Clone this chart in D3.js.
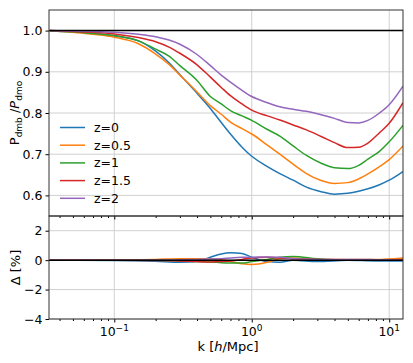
<!DOCTYPE html>
<html>
<head>
<meta charset="utf-8">
<script src="https://cdn.jsdelivr.net/npm/d3@7"></script>
<style>
  body { margin: 0; background: #fff; }
  svg text { font-family: "DejaVu Sans", sans-serif; }
</style>
</head>
<body>
<div id="chart"></div>
<script>
// wavenumbers (h/Mpc) for the ratio curves
const kValues = [0.034, 0.05, 0.07, 0.1, 0.15, 0.2, 0.25, 0.3, 0.4, 0.5, 0.6, 0.7, 0.85, 1.0,
                 1.3, 1.6, 2.0, 2.5, 3.2, 4, 5, 6, 7, 8.5, 10, 12.6];

const ratioZ0   = [0.999, 0.997, 0.993, 0.987, 0.975, 0.950, 0.922, 0.893, 0.848, 0.811, 0.777, 0.749, 0.717, 0.695,
                   0.670, 0.653, 0.637, 0.620, 0.609, 0.603, 0.605, 0.610, 0.616, 0.626, 0.637, 0.658];
const ratioZ05  = [0.999, 0.996, 0.991, 0.984, 0.968, 0.943, 0.918, 0.892, 0.851, 0.818, 0.797, 0.778, 0.762, 0.749,
                   0.722, 0.700, 0.676, 0.653, 0.636, 0.629, 0.631, 0.640, 0.652, 0.670, 0.687, 0.720];
const ratioZ1   = [0.999, 0.997, 0.993, 0.988, 0.975, 0.955, 0.938, 0.915, 0.879, 0.840, 0.822, 0.806, 0.793, 0.782,
                   0.760, 0.744, 0.720, 0.697, 0.678, 0.667, 0.665, 0.673, 0.688, 0.707, 0.730, 0.770];
const ratioZ15  = [1.000, 0.998, 0.996, 0.992, 0.983, 0.973, 0.960, 0.945, 0.917, 0.887, 0.862, 0.842, 0.822, 0.807,
                   0.793, 0.783, 0.771, 0.759, 0.743, 0.728, 0.716, 0.717, 0.727, 0.752, 0.775, 0.825];
const ratioZ2   = [1.000, 0.999, 0.998, 0.996, 0.991, 0.985, 0.977, 0.967, 0.942, 0.915, 0.892, 0.875, 0.855, 0.840,
                   0.825, 0.815, 0.809, 0.804, 0.796, 0.787, 0.777, 0.776, 0.782, 0.800, 0.820, 0.865];

// residuals in percent
const kDelta = [0.034, 0.1, 0.2, 0.3, 0.4, 0.5, 0.6, 0.7, 0.85, 1.0, 1.3, 1.6, 2.0, 3, 5, 8, 12.6];
const deltaZ0  = [0, -0.02, -0.08, -0.15, -0.1, 0.2, 0.42, 0.5, 0.45, 0.2, -0.1, -0.15, 0.0, -0.1, 0.0, -0.05, -0.05];
const deltaZ05 = [0, 0.02, 0.05, 0.1, 0.1, 0.1, 0.05, -0.1, -0.25, -0.3, -0.15, 0.1, 0.15, 0.05, 0.05, 0.05, 0.15];
const deltaZ1  = [0, 0, 0, -0.05, -0.1, -0.12, -0.18, -0.2, -0.2, -0.1, 0.05, 0.2, 0.25, 0.1, 0.0, 0.0, 0.0];
const deltaZ15 = [0, 0, -0.02, -0.05, -0.1, -0.12, -0.1, -0.05, 0.05, 0.15, 0.2, 0.15, 0.1, 0.05, 0.02, 0.0, 0.05];
const deltaZ2  = [0, 0, 0, 0.02, 0.05, 0.08, 0.1, 0.15, 0.2, 0.2, 0.22, 0.2, 0.1, 0.05, 0.05, 0.03, 0.0];

const labels = ["z=0", "z=0.5", "z=1", "z=1.5", "z=2"];
const colors = ["#1f77b4", "#ff7f0e", "#2ca02c", "#d62728", "#9467bd"];
const ratios = [ratioZ0, ratioZ05, ratioZ1, ratioZ15, ratioZ2];
const deltas = [deltaZ0, deltaZ05, deltaZ1, deltaZ15, deltaZ2];

const topTicks = [0.6, 0.7, 0.8, 0.9, 1.0];
const botTicks = [-4, -2, 0, 2];
const majorK = [0.1, 1, 10];
const majorExp = ["\u22121", "0", "1"];

const W = 413, H = 363;
const pLeft = 49, pRight = 403, pTop = 10, pMid = 216, pBottom = 319;

const svg = d3.select("#chart").append("svg")
    .attr("width", W).attr("height", H);

const x = d3.scaleLog().domain([0.0335, 12.6]).range([pLeft, pRight]);
const yTop = d3.scaleLinear().domain([0.55, 1.05]).range([pMid, pTop]);
const yBot = d3.scaleLinear().domain([-4, 3]).range([pBottom, pMid]);

const minorK = x.ticks().filter(d => !majorK.some(m => Math.abs(m - d) < 1e-9));

function grid(y, ticks, y0, y1) {
    const g = svg.append("g").attr("stroke", "#d0d0d0").attr("stroke-width", 1);
    ticks.forEach(t => {
        g.append("line").attr("x1", pLeft).attr("x2", pRight)
            .attr("y1", y(t)).attr("y2", y(t));
    });
    majorK.forEach(k => {
        g.append("line").attr("x1", x(k)).attr("x2", x(k))
            .attr("y1", y0).attr("y2", y1);
    });
}
grid(yTop, topTicks, pTop, pMid);
grid(yBot, botTicks, pMid, pBottom);

// curves
const lineTop = d3.line().x((d, i) => x(kValues[i])).y(d => yTop(d)).curve(d3.curveMonotoneX);
const lineBot = d3.line().x((d, i) => x(kDelta[i])).y(d => yBot(d)).curve(d3.curveMonotoneX);

svg.append("clipPath").attr("id", "ct").append("rect")
    .attr("x", pLeft).attr("y", pTop).attr("width", pRight - pLeft).attr("height", pMid - pTop);
svg.append("clipPath").attr("id", "cb").append("rect")
    .attr("x", pLeft).attr("y", pMid).attr("width", pRight - pLeft).attr("height", pBottom - pMid);

const gTop = svg.append("g").attr("clip-path", "url(#ct)");
ratios.forEach((r, i) => {
    gTop.append("path").datum(r).attr("d", lineTop)
        .attr("fill", "none").attr("stroke", colors[i]).attr("stroke-width", 1.5);
});
gTop.append("line").attr("x1", pLeft).attr("x2", pRight)
    .attr("y1", yTop(1)).attr("y2", yTop(1)).attr("stroke", "#000").attr("stroke-width", 1.5);

const gBot = svg.append("g").attr("clip-path", "url(#cb)");
deltas.forEach((r, i) => {
    gBot.append("path").datum(r).attr("d", lineBot)
        .attr("fill", "none").attr("stroke", colors[i]).attr("stroke-width", 1.5);
});
gBot.append("line").attr("x1", pLeft).attr("x2", pRight)
    .attr("y1", yBot(0)).attr("y2", yBot(0)).attr("stroke", "#000").attr("stroke-width", 1.5);

// axes
function yAxis(y, ticks, fmt) {
    const g = svg.append("g").attr("transform", `translate(${pLeft},0)`)
        .call(d3.axisLeft(y).tickValues(ticks).tickSize(3.5).tickPadding(3).tickFormat(fmt));
    g.select(".domain").remove();
    g.selectAll("text").attr("font-size", 12.5).attr("fill", "#000")
        .style("font-family", "DejaVu Sans, sans-serif");
    g.selectAll("line").attr("stroke", "#000");
}
yAxis(yTop, topTicks, d3.format(".1f"));
yAxis(yBot, botTicks, d => d < 0 ? "\u2212" + Math.abs(d) : String(d));

function xTicks(yPos, withLabels) {
    const gm = svg.append("g").attr("transform", `translate(0,${yPos})`)
        .call(d3.axisBottom(x).tickValues(minorK).tickSize(2).tickFormat(""));
    gm.select(".domain").remove();
    gm.selectAll("line").attr("stroke", "#000");
    const gM = svg.append("g").attr("transform", `translate(0,${yPos})`)
        .call(d3.axisBottom(x).tickValues(majorK).tickSize(3.5).tickFormat(""));
    gM.select(".domain").remove();
    gM.selectAll("line").attr("stroke", "#000");
    if (withLabels) {
        majorK.forEach((k, i) => {
            const t = svg.append("text").attr("x", x(k)).attr("y", yPos + 17)
                .attr("text-anchor", "middle").attr("font-size", 12.5);
            t.append("tspan").text("10");
            t.append("tspan").attr("dy", -5).attr("font-size", 9).text(majorExp[i]);
        });
    }
}
xTicks(pMid, false);
xTicks(pBottom, true);

// spines
const sp = svg.append("g").attr("fill", "none");
sp.append("rect").attr("x", pLeft).attr("y", pTop).attr("width", pRight - pLeft).attr("height", pMid - pTop)
    .attr("stroke", "#333").attr("stroke-width", 1);
sp.append("rect").attr("x", pLeft).attr("y", pMid).attr("width", pRight - pLeft).attr("height", pBottom - pMid)
    .attr("stroke", "#333").attr("stroke-width", 1);

// axis labels
svg.append("text").attr("x", (pLeft + pRight) / 2 + 2).attr("y", 351)
    .attr("text-anchor", "middle").attr("font-size", 13)
    .call(t => {
        t.append("tspan").text("k [");
        t.append("tspan").attr("font-style", "italic").text("h");
        t.append("tspan").text("/Mpc]");
    });

svg.append("text").attr("transform", `translate(19,${(pTop + pMid) / 2}) rotate(-90)`)
    .attr("text-anchor", "middle").attr("font-size", 13)
    .call(t => {
        t.append("tspan").text("P");
        t.append("tspan").attr("dy", 3).attr("font-size", 9).text("dmb");
        t.append("tspan").attr("dy", -3).text(" /");
        t.append("tspan").attr("font-style", "italic").text("P");
        t.append("tspan").attr("dy", 3).attr("font-size", 9).text("dmo");
    });

svg.append("text").attr("transform", `translate(20,${(pMid + pBottom) / 2}) rotate(-90)`)
    .attr("text-anchor", "middle").attr("font-size", 13)
    .text("\u0394 [%]");

// legend
const lg = svg.append("g");
labels.forEach((l, i) => {
    const yy = 127.5 + i * 17.7;
    lg.append("line").attr("x1", 60).attr("x2", 85).attr("y1", yy).attr("y2", yy)
        .attr("stroke", colors[i]).attr("stroke-width", 1.5);
    lg.append("text").attr("x", 94).attr("y", yy + 4.5).attr("font-size", 12.5).text(l);
});
</script>
</body>
</html>
